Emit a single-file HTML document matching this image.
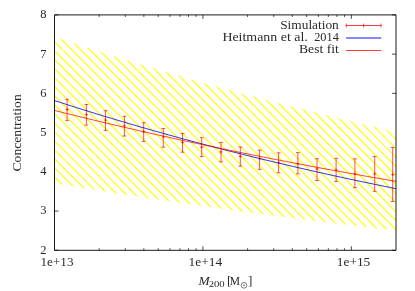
<!DOCTYPE html>
<html><head><meta charset="utf-8"><style>
html,body{margin:0;padding:0;background:#fff;}
svg{display:block;font-family:"Liberation Serif",serif;}
text{fill:#2a2a2a;}
</style></head><body>
<svg width="415" height="291" viewBox="0 0 415 291">
<rect width="415" height="291" fill="#fff"/>
<defs><clipPath id="band"><path d="M54.50,36.96 L60.19,38.87 L65.88,40.76 L71.58,42.64 L77.27,44.51 L82.96,46.36 L88.65,48.21 L94.34,50.04 L100.03,51.86 L105.72,53.67 L111.42,55.46 L117.11,57.24 L122.80,59.02 L128.49,60.78 L134.18,62.53 L139.88,64.27 L145.57,65.99 L151.26,67.71 L156.95,69.41 L162.64,71.10 L168.33,72.79 L174.02,74.46 L179.72,76.12 L185.41,77.77 L191.10,79.40 L196.79,81.03 L202.48,82.65 L208.17,84.26 L213.87,85.85 L219.56,87.44 L225.25,89.01 L230.94,90.58 L236.63,92.13 L242.32,93.68 L248.02,95.21 L253.71,96.74 L259.40,98.25 L265.09,99.75 L270.78,101.25 L276.48,102.73 L282.17,104.21 L287.86,105.68 L293.55,107.13 L299.24,108.58 L304.93,110.02 L310.62,111.44 L316.32,112.86 L322.01,114.27 L327.70,115.67 L333.39,117.06 L339.08,118.44 L344.77,119.82 L350.47,121.18 L356.16,122.54 L361.85,123.88 L367.54,125.22 L373.23,126.55 L378.93,127.87 L384.62,129.18 L390.31,130.48 L396.00,131.78 L396.00,230.50 L390.31,229.86 L384.62,229.21 L378.93,228.56 L373.23,227.90 L367.54,227.23 L361.85,226.57 L356.16,225.90 L350.47,225.22 L344.77,224.54 L339.08,223.85 L333.39,223.17 L327.70,222.47 L322.01,221.77 L316.32,221.07 L310.62,220.36 L304.93,219.65 L299.24,218.93 L293.55,218.21 L287.86,217.49 L282.17,216.75 L276.48,216.02 L270.78,215.28 L265.09,214.53 L259.40,213.78 L253.71,213.03 L248.02,212.27 L242.32,211.50 L236.63,210.73 L230.94,209.95 L225.25,209.17 L219.56,208.39 L213.87,207.60 L208.17,206.80 L202.48,206.00 L196.79,205.19 L191.10,204.38 L185.41,203.56 L179.72,202.74 L174.02,201.91 L168.33,201.08 L162.64,200.24 L156.95,199.40 L151.26,198.55 L145.57,197.69 L139.88,196.83 L134.18,195.96 L128.49,195.09 L122.80,194.21 L117.11,193.33 L111.42,192.44 L105.72,191.54 L100.03,190.64 L94.34,189.73 L88.65,188.82 L82.96,187.90 L77.27,186.97 L71.58,186.04 L65.88,185.10 L60.19,184.16 L54.50,183.21 Z"/></clipPath></defs>
<path d="M54.50,250.30 h4.00 M396.00,250.30 h-4.00 M54.50,211.07 h4.00 M396.00,211.07 h-4.00 M54.50,171.83 h4.00 M396.00,171.83 h-4.00 M54.50,132.60 h4.00 M396.00,132.60 h-4.00 M54.50,93.37 h4.00 M396.00,93.37 h-4.00 M54.50,54.13 h4.00 M396.00,54.13 h-4.00 M54.50,14.90 h4.00 M396.00,14.90 h-4.00 M99.18,250.30 v-2.00 M99.18,14.90 v2.00 M125.31,250.30 v-2.00 M125.31,14.90 v2.00 M143.85,250.30 v-2.00 M143.85,14.90 v2.00 M158.24,250.30 v-2.00 M158.24,14.90 v2.00 M169.99,250.30 v-2.00 M169.99,14.90 v2.00 M179.92,250.30 v-2.00 M179.92,14.90 v2.00 M188.53,250.30 v-2.00 M188.53,14.90 v2.00 M196.12,250.30 v-2.00 M196.12,14.90 v2.00 M202.91,250.30 v-4.00 M202.91,14.90 v4.00 M247.59,250.30 v-2.00 M247.59,14.90 v2.00 M273.72,250.30 v-2.00 M273.72,14.90 v2.00 M292.26,250.30 v-2.00 M292.26,14.90 v2.00 M306.65,250.30 v-2.00 M306.65,14.90 v2.00 M318.40,250.30 v-2.00 M318.40,14.90 v2.00 M328.33,250.30 v-2.00 M328.33,14.90 v2.00 M336.94,250.30 v-2.00 M336.94,14.90 v2.00 M344.53,250.30 v-2.00 M344.53,14.90 v2.00 M351.32,250.30 v-4.00 M351.32,14.90 v4.00" stroke="#000" stroke-width="0.72" fill="none"/>
<path d="M54.50,36.96 L60.19,38.87 L65.88,40.76 L71.58,42.64 L77.27,44.51 L82.96,46.36 L88.65,48.21 L94.34,50.04 L100.03,51.86 L105.72,53.67 L111.42,55.46 L117.11,57.24 L122.80,59.02 L128.49,60.78 L134.18,62.53 L139.88,64.27 L145.57,65.99 L151.26,67.71 L156.95,69.41 L162.64,71.10 L168.33,72.79 L174.02,74.46 L179.72,76.12 L185.41,77.77 L191.10,79.40 L196.79,81.03 L202.48,82.65 L208.17,84.26 L213.87,85.85 L219.56,87.44 L225.25,89.01 L230.94,90.58 L236.63,92.13 L242.32,93.68 L248.02,95.21 L253.71,96.74 L259.40,98.25 L265.09,99.75 L270.78,101.25 L276.48,102.73 L282.17,104.21 L287.86,105.68 L293.55,107.13 L299.24,108.58 L304.93,110.02 L310.62,111.44 L316.32,112.86 L322.01,114.27 L327.70,115.67 L333.39,117.06 L339.08,118.44 L344.77,119.82 L350.47,121.18 L356.16,122.54 L361.85,123.88 L367.54,125.22 L373.23,126.55 L378.93,127.87 L384.62,129.18 L390.31,130.48 L396.00,131.78 L396.00,230.50 L390.31,229.86 L384.62,229.21 L378.93,228.56 L373.23,227.90 L367.54,227.23 L361.85,226.57 L356.16,225.90 L350.47,225.22 L344.77,224.54 L339.08,223.85 L333.39,223.17 L327.70,222.47 L322.01,221.77 L316.32,221.07 L310.62,220.36 L304.93,219.65 L299.24,218.93 L293.55,218.21 L287.86,217.49 L282.17,216.75 L276.48,216.02 L270.78,215.28 L265.09,214.53 L259.40,213.78 L253.71,213.03 L248.02,212.27 L242.32,211.50 L236.63,210.73 L230.94,209.95 L225.25,209.17 L219.56,208.39 L213.87,207.60 L208.17,206.80 L202.48,206.00 L196.79,205.19 L191.10,204.38 L185.41,203.56 L179.72,202.74 L174.02,201.91 L168.33,201.08 L162.64,200.24 L156.95,199.40 L151.26,198.55 L145.57,197.69 L139.88,196.83 L134.18,195.96 L128.49,195.09 L122.80,194.21 L117.11,193.33 L111.42,192.44 L105.72,191.54 L100.03,190.64 L94.34,189.73 L88.65,188.82 L82.96,187.90 L77.27,186.97 L71.58,186.04 L65.88,185.10 L60.19,184.16 L54.50,183.21 Z" fill="#fff"/>
<g clip-path="url(#band)"><path d="M49.50,424.40 L401.00,775.90 M49.50,415.38 L401.00,766.88 M49.50,406.36 L401.00,757.86 M49.50,397.34 L401.00,748.84 M49.50,388.32 L401.00,739.82 M49.50,379.30 L401.00,730.80 M49.50,370.28 L401.00,721.78 M49.50,361.26 L401.00,712.76 M49.50,352.24 L401.00,703.74 M49.50,343.22 L401.00,694.72 M49.50,334.20 L401.00,685.70 M49.50,325.18 L401.00,676.68 M49.50,316.16 L401.00,667.66 M49.50,307.14 L401.00,658.64 M49.50,298.12 L401.00,649.62 M49.50,289.10 L401.00,640.60 M49.50,280.08 L401.00,631.58 M49.50,271.06 L401.00,622.56 M49.50,262.04 L401.00,613.54 M49.50,253.02 L401.00,604.52 M49.50,244.00 L401.00,595.50 M49.50,234.98 L401.00,586.48 M49.50,225.96 L401.00,577.46 M49.50,216.94 L401.00,568.44 M49.50,207.92 L401.00,559.42 M49.50,198.90 L401.00,550.40 M49.50,189.88 L401.00,541.38 M49.50,180.86 L401.00,532.36 M49.50,171.84 L401.00,523.34 M49.50,162.82 L401.00,514.32 M49.50,153.80 L401.00,505.30 M49.50,144.78 L401.00,496.28 M49.50,135.76 L401.00,487.26 M49.50,126.74 L401.00,478.24 M49.50,117.72 L401.00,469.22 M49.50,108.70 L401.00,460.20 M49.50,99.68 L401.00,451.18 M49.50,90.66 L401.00,442.16 M49.50,81.64 L401.00,433.14 M49.50,72.62 L401.00,424.12 M49.50,63.60 L401.00,415.10 M49.50,54.58 L401.00,406.08 M49.50,45.56 L401.00,397.06 M49.50,36.54 L401.00,388.04 M49.50,27.52 L401.00,379.02 M49.50,18.50 L401.00,370.00 M49.50,9.48 L401.00,360.98 M49.50,0.46 L401.00,351.96 M49.50,-8.56 L401.00,342.94 M49.50,-17.58 L401.00,333.92 M49.50,-26.60 L401.00,324.90 M49.50,-35.62 L401.00,315.88 M49.50,-44.64 L401.00,306.86 M49.50,-53.66 L401.00,297.84 M49.50,-62.68 L401.00,288.82 M49.50,-71.70 L401.00,279.80 M49.50,-80.72 L401.00,270.78 M49.50,-89.74 L401.00,261.76 M49.50,-98.76 L401.00,252.74 M49.50,-107.78 L401.00,243.72 M49.50,-116.80 L401.00,234.70 M49.50,-125.82 L401.00,225.68 M49.50,-134.84 L401.00,216.66 M49.50,-143.86 L401.00,207.64 M49.50,-152.88 L401.00,198.62 M49.50,-161.90 L401.00,189.60 M49.50,-170.92 L401.00,180.58 M49.50,-179.94 L401.00,171.56 M49.50,-188.96 L401.00,162.54 M49.50,-197.98 L401.00,153.52 M49.50,-207.00 L401.00,144.50 M49.50,-216.02 L401.00,135.48 M49.50,-225.04 L401.00,126.46 M49.50,-234.06 L401.00,117.44 M49.50,-243.08 L401.00,108.42 M49.50,-252.10 L401.00,99.40 M49.50,-261.12 L401.00,90.38 M49.50,-270.14 L401.00,81.36 M49.50,-279.16 L401.00,72.34 M49.50,-288.18 L401.00,63.32 M49.50,-297.20 L401.00,54.30 M49.50,-306.22 L401.00,45.28 M49.50,-315.24 L401.00,36.26 M49.50,-324.26 L401.00,27.24 M49.50,-333.28 L401.00,18.22 M49.50,-342.30 L401.00,9.20 M49.50,-351.32 L401.00,0.18 M49.50,-360.34 L401.00,-8.84 M49.50,-369.36 L401.00,-17.86 M49.50,-378.38 L401.00,-26.88 M49.50,-387.40 L401.00,-35.90 M49.50,-396.42 L401.00,-44.92 M49.50,-405.44 L401.00,-53.94 M49.50,-414.46 L401.00,-62.96 M49.50,-423.48 L401.00,-71.98 M49.50,-432.50 L401.00,-81.00 M49.50,-441.52 L401.00,-90.02 M49.50,-450.54 L401.00,-99.04 M49.50,-459.56 L401.00,-108.06 M49.50,-468.58 L401.00,-117.08" stroke="#ffff00" stroke-width="1.18" fill="none"/></g>
<path d="M67.10,99.30 V120.40 M65.20,99.30 H69.00 M65.20,120.40 H69.00 M65.50,109.60 H68.70 M67.10,108.20 V111.00 M86.40,104.50 V125.10 M84.50,104.50 H88.30 M84.50,125.10 H88.30 M84.80,114.60 H88.00 M86.40,113.20 V116.00 M105.50,110.70 V130.40 M103.60,110.70 H107.40 M103.60,130.40 H107.40 M103.90,120.10 H107.10 M105.50,118.70 V121.50 M124.40,116.30 V136.00 M122.50,116.30 H126.30 M122.50,136.00 H126.30 M122.80,125.90 H126.00 M124.40,124.50 V127.30 M143.70,122.70 V141.40 M141.80,122.70 H145.60 M141.80,141.40 H145.60 M142.10,131.80 H145.30 M143.70,130.40 V133.20 M163.30,128.50 V147.20 M161.40,128.50 H165.20 M161.40,147.20 H165.20 M161.70,137.00 H164.90 M163.30,135.60 V138.40 M182.50,133.40 V152.20 M180.60,133.40 H184.40 M180.60,152.20 H184.40 M180.90,142.40 H184.10 M182.50,141.00 V143.80 M201.70,137.70 V156.50 M199.80,137.70 H203.60 M199.80,156.50 H203.60 M200.10,147.20 H203.30 M201.70,145.80 V148.60 M221.00,142.40 V161.80 M219.10,142.40 H222.90 M219.10,161.80 H222.90 M219.40,151.90 H222.60 M221.00,150.50 V153.30 M240.30,147.00 V166.20 M238.40,147.00 H242.20 M238.40,166.20 H242.20 M238.70,156.30 H241.90 M240.30,154.90 V157.70 M259.60,150.10 V169.40 M257.70,150.10 H261.50 M257.70,169.40 H261.50 M258.00,158.80 H261.20 M259.60,157.40 V160.20 M278.60,152.80 V172.80 M276.70,152.80 H280.50 M276.70,172.80 H280.50 M277.00,162.60 H280.20 M278.60,161.20 V164.00 M297.90,152.60 V173.90 M296.00,152.60 H299.80 M296.00,173.90 H299.80 M296.30,163.80 H299.50 M297.90,162.40 V165.20 M317.00,158.70 V180.50 M315.10,158.70 H318.90 M315.10,180.50 H318.90 M315.40,168.90 H318.60 M317.00,167.50 V170.30 M336.10,158.30 V181.60 M334.20,158.30 H338.00 M334.20,181.60 H338.00 M334.50,170.10 H337.70 M336.10,168.70 V171.50 M354.90,158.80 V187.60 M353.00,158.80 H356.80 M353.00,187.60 H356.80 M353.30,173.90 H356.50 M354.90,172.50 V175.30 M374.70,156.50 V191.30 M372.80,156.50 H376.60 M372.80,191.30 H376.60 M373.10,173.90 H376.30 M374.70,172.50 V175.30 M392.70,147.50 V201.50 M390.80,147.50 H394.60 M390.80,201.50 H394.60 M391.10,174.60 H394.30 M392.70,173.20 V176.00" stroke="#ff0000" stroke-width="0.68" fill="none"/>
<path d="M54.50,100.55 L60.19,102.39 L65.88,104.23 L71.58,106.05 L77.27,107.85 L82.96,109.64 L88.65,111.41 L94.34,113.17 L100.03,114.92 L105.72,116.65 L111.42,118.37 L117.11,120.07 L122.80,121.76 L128.49,123.44 L134.18,125.10 L139.88,126.75 L145.57,128.39 L151.26,130.01 L156.95,131.62 L162.64,133.22 L168.33,134.80 L174.02,136.37 L179.72,137.93 L185.41,139.48 L191.10,141.01 L196.79,142.53 L202.48,144.04 L208.17,145.54 L213.87,147.02 L219.56,148.49 L225.25,149.95 L230.94,151.40 L236.63,152.84 L242.32,154.26 L248.02,155.67 L253.71,157.08 L259.40,158.47 L265.09,159.85 L270.78,161.21 L276.48,162.57 L282.17,163.92 L287.86,165.25 L293.55,166.58 L299.24,167.89 L304.93,169.19 L310.62,170.49 L316.32,171.77 L322.01,173.04 L327.70,174.30 L333.39,175.55 L339.08,176.79 L344.77,178.02 L350.47,179.24 L356.16,180.46 L361.85,181.66 L367.54,182.85 L373.23,184.03 L378.93,185.20 L384.62,186.36 L390.31,187.52 L396.00,188.66" stroke="#0000ff" stroke-width="0.82" fill="none"/>
<path d="M54.50,110.43 L60.19,111.86 L65.88,113.27 L71.58,114.68 L77.27,116.08 L82.96,117.47 L88.65,118.85 L94.34,120.22 L100.03,121.58 L105.72,122.93 L111.42,124.27 L117.11,125.61 L122.80,126.93 L128.49,128.25 L134.18,129.56 L139.88,130.86 L145.57,132.15 L151.26,133.44 L156.95,134.71 L162.64,135.98 L168.33,137.24 L174.02,138.49 L179.72,139.73 L185.41,140.96 L191.10,142.19 L196.79,143.41 L202.48,144.62 L208.17,145.82 L213.87,147.01 L219.56,148.20 L225.25,149.38 L230.94,150.55 L236.63,151.71 L242.32,152.87 L248.02,154.01 L253.71,155.16 L259.40,156.29 L265.09,157.41 L270.78,158.53 L276.48,159.64 L282.17,160.75 L287.86,161.84 L293.55,162.93 L299.24,164.02 L304.93,165.09 L310.62,166.16 L316.32,167.22 L322.01,168.28 L327.70,169.32 L333.39,170.36 L339.08,171.40 L344.77,172.43 L350.47,173.45 L356.16,174.46 L361.85,175.47 L367.54,176.47 L373.23,177.46 L378.93,178.45 L384.62,179.43 L390.31,180.41 L396.00,181.37" stroke="#ff0000" stroke-width="0.75" fill="none"/>
<path d="M346.1,25.5 H381.2 M346.3,23.6 v3.8 M381.0,23.6 v3.8 M363.6,23.6 v3.8" stroke="#ff0000" stroke-width="0.75" fill="none"/>
<path d="M346.1,38.0 H381.2" stroke="#0000ff" stroke-width="0.95" fill="none"/>
<path d="M346.1,50.5 H381.2" stroke="#ff0000" stroke-width="0.75" fill="none"/>
<path d="M54.5,14.9 H396.0 V250.3 H54.5 Z" stroke="#000" stroke-width="0.9" fill="none"/>
<g style="filter:grayscale(1)">
<text x="46.60" y="253.70" font-size="12.5" text-anchor="end" >2</text>
<text x="46.60" y="214.47" font-size="12.5" text-anchor="end" >3</text>
<text x="46.60" y="175.23" font-size="12.5" text-anchor="end" >4</text>
<text x="46.60" y="136.00" font-size="12.5" text-anchor="end" >5</text>
<text x="46.60" y="96.77" font-size="12.5" text-anchor="end" >6</text>
<text x="46.60" y="57.53" font-size="12.5" text-anchor="end" >7</text>
<text x="46.60" y="18.30" font-size="12.5" text-anchor="end" >8</text>
<text x="57.00" y="266.00" font-size="12.5" text-anchor="middle" textLength="33.0" lengthAdjust="spacingAndGlyphs" >1e+13</text>
<text x="205.30" y="266.00" font-size="12.5" text-anchor="middle" textLength="33.6" lengthAdjust="spacingAndGlyphs" >1e+14</text>
<text x="353.55" y="266.00" font-size="12.5" text-anchor="middle" textLength="33.5" lengthAdjust="spacingAndGlyphs" >1e+15</text>
<text x="338.80" y="28.50" font-size="12.5" text-anchor="end" textLength="58.6" lengthAdjust="spacingAndGlyphs" >Simulation</text>
<text x="222.40" y="40.80" font-size="12.5" text-anchor="start" textLength="85.4" lengthAdjust="spacingAndGlyphs" >Heitmann et al.</text>
<text x="338.80" y="40.80" font-size="12.5" text-anchor="end" textLength="24.6" lengthAdjust="spacingAndGlyphs" >2014</text>
<text x="338.80" y="53.20" font-size="12.5" text-anchor="end" textLength="39.8" lengthAdjust="spacingAndGlyphs" >Best fit</text>
<text transform="translate(20.6,132.9) rotate(-90)" font-size="12.5" text-anchor="middle" textLength="77.3" lengthAdjust="spacingAndGlyphs">Concentration</text>
<text x="198.60" y="284.65" font-size="12.5" text-anchor="start" textLength="11.2" lengthAdjust="spacingAndGlyphs" font-style="italic">M</text>
<text x="208.70" y="286.50" font-size="8.2" text-anchor="start" textLength="16.0" lengthAdjust="spacingAndGlyphs" >200</text>
<text x="227.00" y="284.90" font-size="13.2" text-anchor="start" >[</text>
<text x="229.70" y="284.65" font-size="12.5" text-anchor="start" textLength="10.3" lengthAdjust="spacingAndGlyphs" >M</text>
<text x="248.00" y="284.90" font-size="13.2" text-anchor="start" >]</text>
<circle cx="243.95" cy="285.3" r="2.85" fill="none" stroke="#2a2a2a" stroke-width="0.6"/><circle cx="243.95" cy="285.3" r="0.7" fill="#2a2a2a"/>
</g>
</svg></body></html>
